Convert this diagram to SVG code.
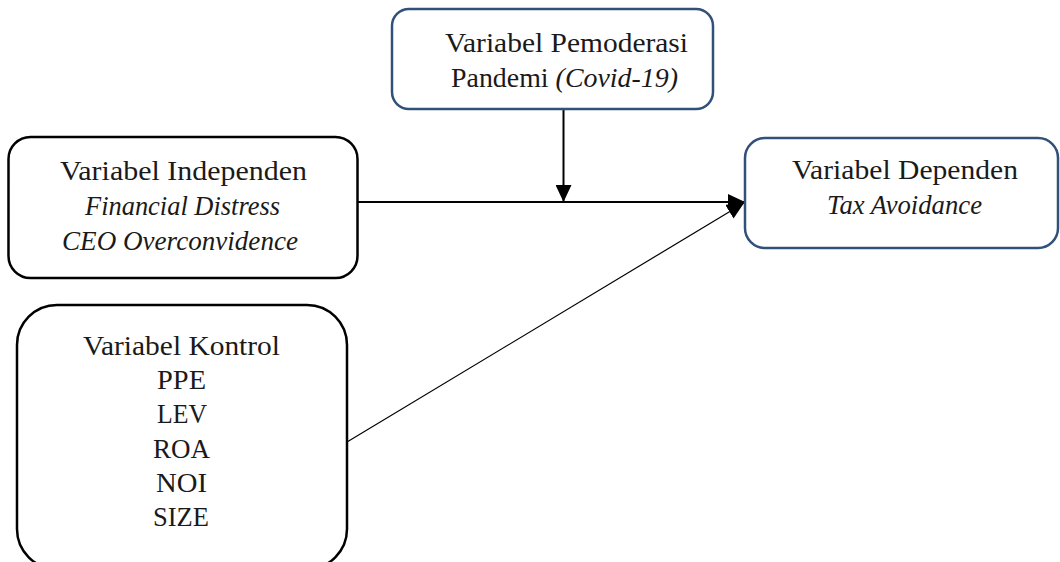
<svg xmlns="http://www.w3.org/2000/svg" width="1060" height="562" viewBox="0 0 1060 562">
<style>
  .box{fill:#ffffff;stroke-width:2.5}
  .blue{stroke:#31507a}
  .black{stroke:#000000}
  text{font-family:"Liberation Serif","Times New Roman",serif;font-size:28px;fill:#1a1a1a;text-anchor:middle}
  .it{font-style:italic}
  .conn{stroke:#000;fill:none}
</style>
<defs>
  <marker id="ah" viewBox="0 0 17 16" refX="17" refY="8" markerWidth="17" markerHeight="16" markerUnits="userSpaceOnUse" orient="auto">
    <path d="M0,0 L17,8 L0,16 Z" fill="#000"/>
  </marker>
</defs>
<rect width="1060" height="562" fill="#ffffff"/>
<g id="connectors">
  <line class="conn" x1="358" y1="202" x2="745" y2="202" stroke-width="2" marker-end="url(#ah)"/>
  <line class="conn" x1="563.5" y1="109" x2="563.5" y2="202" stroke-width="2" marker-end="url(#ah)"/>
  <line class="conn" x1="347" y1="442" x2="744" y2="203" stroke-width="1.2" marker-end="url(#ah)"/>
</g>
<g id="node-moderasi">
  <rect class="box blue" x="392" y="9" width="321" height="100" rx="17"/>
  <text x="566.5" y="52" textLength="243" lengthAdjust="spacingAndGlyphs">Variabel Pemoderasi</text>
  <text x="564.5" y="87" textLength="227" lengthAdjust="spacingAndGlyphs">Pandemi <tspan class="it">(Covid-19)</tspan></text>
</g>
<g id="node-independen">
  <rect class="box black" x="8.5" y="137" width="349" height="141" rx="22"/>
  <text x="183.5" y="180" textLength="247" lengthAdjust="spacingAndGlyphs">Variabel Independen</text>
  <text class="it" x="182.5" y="215" textLength="195" lengthAdjust="spacingAndGlyphs">Financial Distress</text>
  <text class="it" x="180" y="250" textLength="236" lengthAdjust="spacingAndGlyphs">CEO Overconvidence</text>
</g>
<g id="node-dependen">
  <rect class="box blue" x="745" y="138" width="313" height="110" rx="20"/>
  <text x="905" y="179" textLength="226" lengthAdjust="spacingAndGlyphs">Variabel Dependen</text>
  <text class="it" x="904.5" y="214" textLength="155" lengthAdjust="spacingAndGlyphs">Tax Avoidance</text>
</g>
<g id="node-kontrol">
  <rect class="box black" x="17" y="305" width="330" height="264" rx="40"/>
  <text x="181.5" y="355" textLength="197" lengthAdjust="spacingAndGlyphs">Variabel Kontrol</text>
  <text x="181.5" y="389" textLength="49" lengthAdjust="spacingAndGlyphs">PPE</text>
  <text x="182" y="423" textLength="50" lengthAdjust="spacingAndGlyphs">LEV</text>
  <text x="181.5" y="458" textLength="57" lengthAdjust="spacingAndGlyphs">ROA</text>
  <text x="181.5" y="492" textLength="51" lengthAdjust="spacingAndGlyphs">NOI</text>
  <text x="181" y="526" textLength="56" lengthAdjust="spacingAndGlyphs">SIZE</text>
</g>
</svg>
